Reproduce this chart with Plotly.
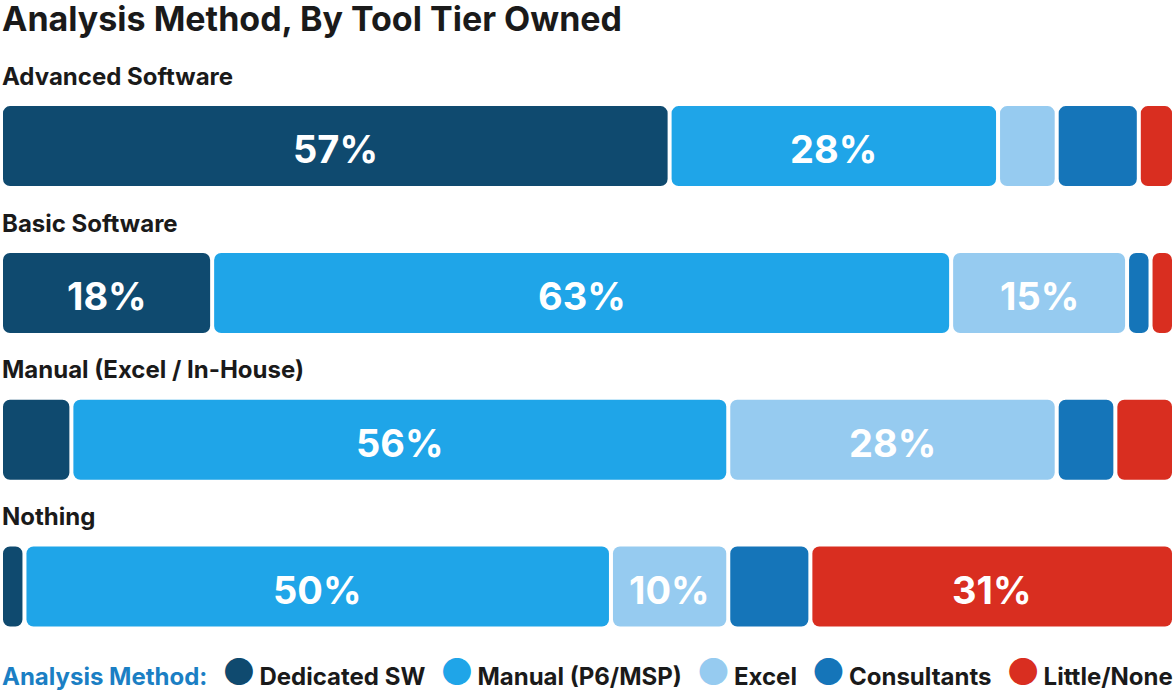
import plotly.graph_objects as go

# ---- data ----
rows = ["Advanced Software", "Basic Software", "Manual (Excel / In-House)", "Nothing"]
methods = ["Dedicated SW", "Manual (P6/MSP)", "Excel", "Consultants", "Little/None"]
dedicated_sw = [57, 18, 6, 2]
manual_p6 = [28, 63, 56, 50]
excel = [5, 15, 28, 10]
consultants = [7, 2, 5, 7]
little_none = [3, 2, 5, 31]
show_label_min = 10  # label segments of at least this share

colors = ["#0f4a6f", "#1fa5e8", "#96cbf0", "#1575b9", "#d92e20"]
series = [dedicated_sw, manual_p6, excel, consultants, little_none]

W, H = 1176, 693
ML, MR, MT, MB = 1, 2, 58, 33
plot_w = W - ML - MR
px_unit = plot_w / 100.0
GAP_PX = 4
gap = GAP_PX / px_unit
BAR_W = 0.545
FONT = "Inter"

fig = go.Figure()
ypos = list(range(len(rows)))

cum = [0.0] * len(rows)
for name, vals, col in zip(methods, series, colors):
    starts = cum[:]
    ends = [s + v for s, v in zip(starts, vals)]
    base = [s + gap / 2 for s in starts]
    length = [v - gap for v in vals]
    fig.add_trace(go.Bar(
        x=length, y=ypos, base=base, orientation="h", width=BAR_W,
        marker=dict(color=col, line=dict(width=0), cornerradius=7),
        showlegend=False, hoverinfo="skip", name=name,
    ))
    for i, v in enumerate(vals):
        if v >= show_label_min:
            fig.add_annotation(
                x=(starts[i] + ends[i]) / 2, y=i, xref="x", yref="y", text=f"{v}%",
                showarrow=False, xanchor="center", yanchor="middle", yshift=-3,
                font=dict(family=FONT, size=38, color="white", weight=700),
            )
    cum = ends

# row labels
for i, r in enumerate(rows):
    fig.add_annotation(
        x=0, xref="paper", y=i - 0.476, yref="y", text=r, showarrow=False,
        xanchor="left", yanchor="middle", xshift=-1,
        font=dict(family=FONT, size=24, color="#1a1a1a", weight=700),
    )

# legend as text
parts = ["<span style='color:#1b7fc4'>Analysis Method:</span>"]
for name, col in zip(methods, colors):
    parts.append(f"<span style='color:{col};font-size:37px'>●</span>"
                 f"<span style='font-size:15px'> </span>{name}")
legend_text = "  <span style='font-size:14px'> </span>".join(parts)
fig.add_annotation(
    x=0, xref="paper", y=-0.025, yref="paper", text=legend_text, showarrow=False,
    xanchor="left", yanchor="middle", xshift=-1, yshift=4,
    font=dict(family=FONT, size=24, color="#1a1a1a", weight=700),
)

fig.update_layout(
    width=W, height=H,
    margin=dict(l=ML, r=MR, t=MT, b=MB),
    barmode="overlay",
    plot_bgcolor="white", paper_bgcolor="white",
    title=dict(text="Analysis Method, By Tool Tier Owned", x=0, xref="paper", xanchor="left",
               y=1 - 19 / H, yref="container", yanchor="middle",
               font=dict(family=FONT, size=34, color="#1a1a1a", weight=700), pad=dict(l=1)),
    xaxis=dict(range=[0, 100], visible=False, fixedrange=True),
    yaxis=dict(range=[3.5, -0.6], visible=False, fixedrange=True),
)

fig.write_html("out.html", config={"displayModeBar": False},
               post_script="document.body.style.margin='0px';")
